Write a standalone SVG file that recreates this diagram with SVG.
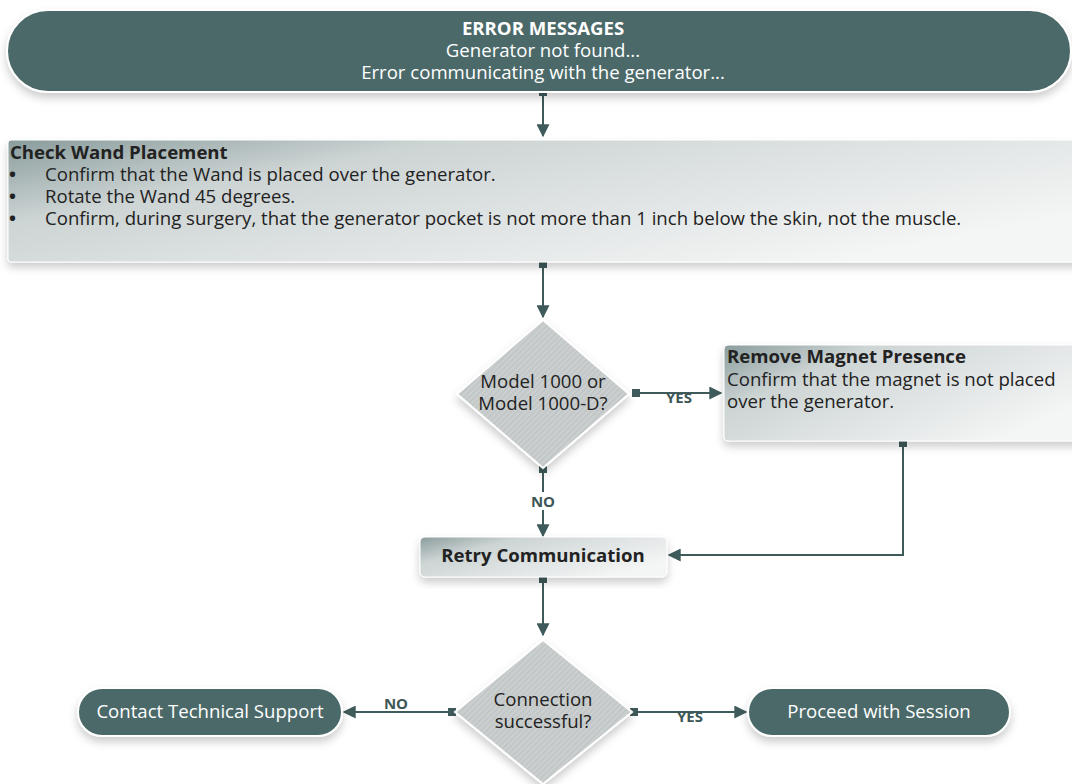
<svg xmlns="http://www.w3.org/2000/svg" width="1072" height="784" viewBox="0 0 1072 784">
<defs>
<style>
text{font-family:"Open Sans","Noto Sans","Liberation Sans",sans-serif;font-size:18.6px;fill:#222}
.w{fill:#fff}
.b{font-weight:bold}
.c{text-anchor:middle}
.lbl{font-size:15px;font-weight:bold;fill:#3d5656}
.pill{fill:#4b6969;stroke:#fff;stroke-width:2}
.box{fill:url(#g);stroke:#fff;stroke-width:1}
.dia{fill:url(#stripe);stroke:#fff;stroke-width:2}
.ln{fill:none;stroke:#3f5a5a;stroke-width:2}
</style>
<linearGradient id="g" x1="0" y1="0" x2="1" y2="0.6">
<stop offset="0" stop-color="#8a9c9c"/>
<stop offset="0.3" stop-color="#cdd4d4"/>
<stop offset="1" stop-color="#f4f5f5"/>
</linearGradient>
<pattern id="stripe" width="4" height="4" patternUnits="userSpaceOnUse" patternTransform="rotate(45)">
<rect width="4" height="4" fill="#cbcfcf"/>
<rect width="1.5" height="4" fill="#bfc4c4"/>
</pattern>
<filter id="sh" x="-10%" y="-20%" width="120%" height="150%">
<feDropShadow dx="0" dy="5" stdDeviation="4" flood-color="#000" flood-opacity="0.2"/>
</filter>
<marker id="ah" viewBox="0 0 10 10" refX="9" refY="5" markerWidth="6.5" markerHeight="6.5" orient="auto">
<path d="M0,0 L10,5 L0,10 z" fill="#3f5a5a"/>
</marker>
<marker id="sq" viewBox="0 0 10 10" refX="5" refY="5" markerWidth="4" markerHeight="4" orient="auto">
<rect width="10" height="10" fill="#3f5a5a"/>
</marker>
</defs>

<g id="connectors">
<path class="ln" d="M543,92 V136" marker-start="url(#sq)" marker-end="url(#ah)"/>
<path class="ln" d="M543,264 V317" marker-start="url(#sq)" marker-end="url(#ah)"/>
<path class="ln" d="M636,393 H721" marker-start="url(#sq)" marker-end="url(#ah)"/>
<rect x="663" y="394" width="32" height="12" fill="#fff"/>
<text class="lbl c" x="679" y="403">YES</text>
<path class="ln" d="M543,469 V536" marker-start="url(#sq)" marker-end="url(#ah)"/>
<rect x="526" y="492" width="34" height="18" fill="#fff"/>
<text class="lbl c" x="543" y="507">NO</text>
<path class="ln" d="M903,443 V555 H669" marker-start="url(#sq)" marker-end="url(#ah)"/>
<path class="ln" d="M543,579 V635" marker-start="url(#sq)" marker-end="url(#ah)"/>
<path class="ln" d="M452,712 H344" marker-start="url(#sq)" marker-end="url(#ah)"/>
<rect x="382" y="698" width="30" height="12" fill="#fff"/>
<text class="lbl c" x="396" y="709">NO</text>
<path class="ln" d="M634,712 H746" marker-start="url(#sq)" marker-end="url(#ah)"/>
<rect x="675" y="713" width="32" height="12" fill="#fff"/>
<text class="lbl c" x="690" y="722">YES</text>
</g>

<g id="error-messages">
<rect class="pill" x="7" y="10" width="1064" height="82" rx="41" filter="url(#sh)"/>
<text class="w b c" x="543" y="35">ERROR MESSAGES</text>
<text class="w c" x="543" y="57">Generator not found...</text>
<text class="w c" x="543" y="79">Error communicating with the generator...</text>
</g>

<g id="check-wand">
<rect class="box" x="8" y="140" width="1080" height="122" rx="3" filter="url(#sh)"/>
<text class="b" x="10" y="159">Check Wand Placement</text>
<text class="b" x="9" y="181">•</text><text x="45" y="181">Confirm that the Wand is placed over the generator.</text>
<text class="b" x="9" y="203">•</text><text x="45" y="203">Rotate the Wand 45 degrees.</text>
<text class="b" x="9" y="225">•</text><text x="45" y="225">Confirm, during surgery, that the generator pocket is not more than 1 inch below the skin, not the muscle.</text>
</g>

<g id="model-decision">
<path class="dia" d="M543,320 L629,394 L543,468 L457,394 Z" filter="url(#sh)"/>
<text class="c" x="543" y="388">Model 1000 or</text>
<text class="c" x="543" y="410">Model 1000-D?</text>
</g>

<g id="remove-magnet">
<rect class="box" x="724" y="345" width="360" height="96" rx="4" filter="url(#sh)"/>
<text class="b" x="727" y="363">Remove Magnet Presence</text>
<text x="727" y="386">Confirm that the magnet is not placed</text>
<text x="727" y="408">over the generator.</text>
</g>

<g id="retry">
<rect class="box" x="420" y="537" width="247" height="40" rx="5" filter="url(#sh)"/>
<text class="b c" x="543" y="562">Retry Communication</text>
</g>

<g id="connection-decision">
<path class="dia" d="M543,640 L632,712 L543,784 L455,712 Z" filter="url(#sh)"/>
<text class="c" x="543" y="706">Connection</text>
<text class="c" x="543" y="728">successful?</text>
</g>

<g id="contact-support">
<rect class="pill" x="78" y="688" width="264" height="48" rx="24" filter="url(#sh)"/>
<text class="w c" x="210" y="718">Contact Technical Support</text>
</g>

<g id="proceed">
<rect class="pill" x="748" y="688" width="262" height="48" rx="24" filter="url(#sh)"/>
<text class="w c" x="879" y="718">Proceed with Session</text>
</g>
</svg>
